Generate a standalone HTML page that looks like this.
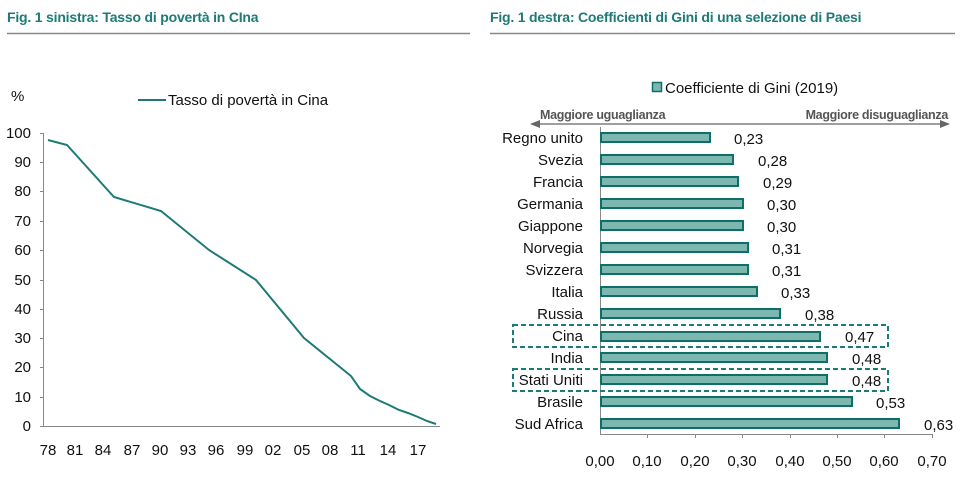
<!DOCTYPE html>
<html><head><meta charset="utf-8"><style>
html,body{margin:0;padding:0;background:#fff}
svg{display:block}
text{font-family:"Liberation Sans Narrow","Liberation Sans",sans-serif}
</style></head><body>
<svg width="965" height="486" viewBox="0 0 965 486" xmlns="http://www.w3.org/2000/svg">
<text x="7" y="22" font-size="14" font-weight="bold" fill="#1d7a76" style="font-family:'Liberation Sans',sans-serif;letter-spacing:-0.2px">Fig. 1 sinistra: Tasso di povertà in CIna</text>
<text x="490" y="22" font-size="14" font-weight="bold" fill="#1d7a76" style="font-family:'Liberation Sans',sans-serif;letter-spacing:-0.2px">Fig. 1 destra: Coefficienti di Gini di una selezione di Paesi</text>
<line x1="7" y1="33.5" x2="470" y2="33.5" stroke="#888" stroke-width="1.5"/>
<line x1="490" y1="33.5" x2="955" y2="33.5" stroke="#888" stroke-width="1.5"/>

<text x="11" y="101" font-size="15" fill="#111">%</text>
<line x1="138" y1="100" x2="166" y2="100" stroke="#1d7a76" stroke-width="2"/>
<text x="168" y="105" font-size="15" fill="#111">Tasso di povertà in Cina</text>
<g stroke="#888" stroke-width="1">
<line x1="43.5" y1="133" x2="43.5" y2="426"/>
<line x1="40" y1="426.5" x2="440" y2="426.5"/>
<line x1="40" y1="133.5" x2="43" y2="133.5"/><line x1="40" y1="162.5" x2="43" y2="162.5"/><line x1="40" y1="191.5" x2="43" y2="191.5"/><line x1="40" y1="221.5" x2="43" y2="221.5"/><line x1="40" y1="250.5" x2="43" y2="250.5"/><line x1="40" y1="280.5" x2="43" y2="280.5"/><line x1="40" y1="309.5" x2="43" y2="309.5"/><line x1="40" y1="338.5" x2="43" y2="338.5"/><line x1="40" y1="367.5" x2="43" y2="367.5"/><line x1="40" y1="397.5" x2="43" y2="397.5"/>
</g>
<g font-size="15" fill="#111" text-anchor="end">
<text x="31" y="138">100</text><text x="31" y="167">90</text><text x="31" y="196">80</text><text x="31" y="226">70</text><text x="31" y="255">60</text><text x="31" y="285">50</text><text x="31" y="314">40</text><text x="31" y="343">30</text><text x="31" y="372">20</text><text x="31" y="402">10</text><text x="31" y="431">0</text>
</g>
<g font-size="15" fill="#111" text-anchor="middle">
<text x="48" y="455">78</text><text x="75" y="455">81</text><text x="103" y="455">84</text><text x="132" y="455">87</text><text x="160" y="455">90</text><text x="188" y="455">93</text><text x="216" y="455">96</text><text x="245" y="455">99</text><text x="273" y="455">02</text><text x="302" y="455">05</text><text x="330" y="455">08</text><text x="358" y="455">11</text><text x="388" y="455">14</text><text x="418" y="455">17</text>
</g>
<polyline fill="none" stroke="#1d7a76" stroke-width="2" points="48,140 67,145 114,197 161,211 209,250 256,280 304,338 351,376 360,389 370,396 380,401 389,405 399,410 408,413 418,417 427,421 436,424"/>

<rect x="652.5" y="82.5" width="9" height="9" fill="#7db8b0" stroke="#0f6e68" stroke-width="1.5"/>
<text x="665" y="93" font-size="15" fill="#111">Coefficiente di Gini (2019)</text>
<text x="540" y="119" font-size="12.5" font-weight="bold" fill="#555" style="font-family:'Liberation Sans',sans-serif;letter-spacing:-0.3px">Maggiore uguaglianza</text>
<text x="948" y="119" font-size="12.5" font-weight="bold" fill="#555" text-anchor="end" style="font-family:'Liberation Sans',sans-serif;letter-spacing:-0.3px">Maggiore disuguaglianza</text>
<line x1="538" y1="124" x2="942" y2="124" stroke="#666" stroke-width="1.2"/>
<polygon points="530,124 540,120 540,128" fill="#666"/>
<polygon points="950,124 940,120 940,128" fill="#666"/>
<g stroke="#888" stroke-width="1">
<line x1="600.5" y1="127" x2="600.5" y2="434"/>
<line x1="600" y1="434.5" x2="933" y2="434.5"/>
<line x1="647.5" y1="434" x2="647.5" y2="438"/><line x1="695.5" y1="434" x2="695.5" y2="438"/><line x1="742.5" y1="434" x2="742.5" y2="438"/><line x1="790.5" y1="434" x2="790.5" y2="438"/><line x1="837.5" y1="434" x2="837.5" y2="438"/><line x1="884.5" y1="434" x2="884.5" y2="438"/><line x1="932.5" y1="434" x2="932.5" y2="438"/>
</g>
<g font-size="15" fill="#111" text-anchor="middle">
<text x="600" y="466">0,00</text><text x="647" y="466">0,10</text><text x="695" y="466">0,20</text><text x="742" y="466">0,30</text><text x="790" y="466">0,40</text><text x="837" y="466">0,50</text><text x="884" y="466">0,60</text><text x="932" y="466">0,70</text>
</g>
<g fill="#7db8b0" stroke="#0f6e68" stroke-width="2">
<rect x="601" y="133" width="109" height="9"/>
<rect x="601" y="155" width="132" height="9"/>
<rect x="601" y="177" width="137" height="9"/>
<rect x="601" y="199" width="142" height="9"/>
<rect x="601" y="221" width="142" height="9"/>
<rect x="601" y="243" width="147" height="9"/>
<rect x="601" y="265" width="147" height="9"/>
<rect x="601" y="287" width="156" height="9"/>
<rect x="601" y="309" width="179" height="9"/>
<rect x="601" y="332" width="219" height="9"/>
<rect x="601" y="353" width="226" height="9"/>
<rect x="601" y="375" width="226" height="9"/>
<rect x="601" y="397" width="251" height="9"/>
<rect x="601" y="419" width="298" height="9"/>
</g>
<g font-size="15" fill="#111" text-anchor="end">
<text x="583" y="143">Regno unito</text><text x="583" y="165">Svezia</text><text x="583" y="187">Francia</text><text x="583" y="209">Germania</text><text x="583" y="231">Giappone</text><text x="583" y="253">Norvegia</text><text x="583" y="275">Svizzera</text><text x="583" y="297">Italia</text><text x="583" y="319">Russia</text><text x="583" y="341">Cina</text><text x="583" y="363">India</text><text x="583" y="385">Stati Uniti</text><text x="583" y="407">Brasile</text><text x="583" y="429">Sud Africa</text>
</g>
<g font-size="15" fill="#111">
<text x="734" y="144">0,23</text><text x="758" y="166">0,28</text><text x="763" y="188">0,29</text><text x="767" y="210">0,30</text><text x="767" y="232">0,30</text><text x="772" y="254">0,31</text><text x="772" y="276">0,31</text><text x="781" y="298">0,33</text><text x="805" y="320">0,38</text><text x="845" y="342">0,47</text><text x="852" y="364">0,48</text><text x="852" y="386">0,48</text><text x="876" y="408">0,53</text><text x="924" y="430">0,63</text>
</g>
<g fill="none" stroke="#1d7a76" stroke-width="2" stroke-dasharray="5,3">
<rect x="513" y="325" width="375" height="22"/>
<rect x="513" y="369" width="375" height="22"/>
</g>
</svg>
</body></html>
